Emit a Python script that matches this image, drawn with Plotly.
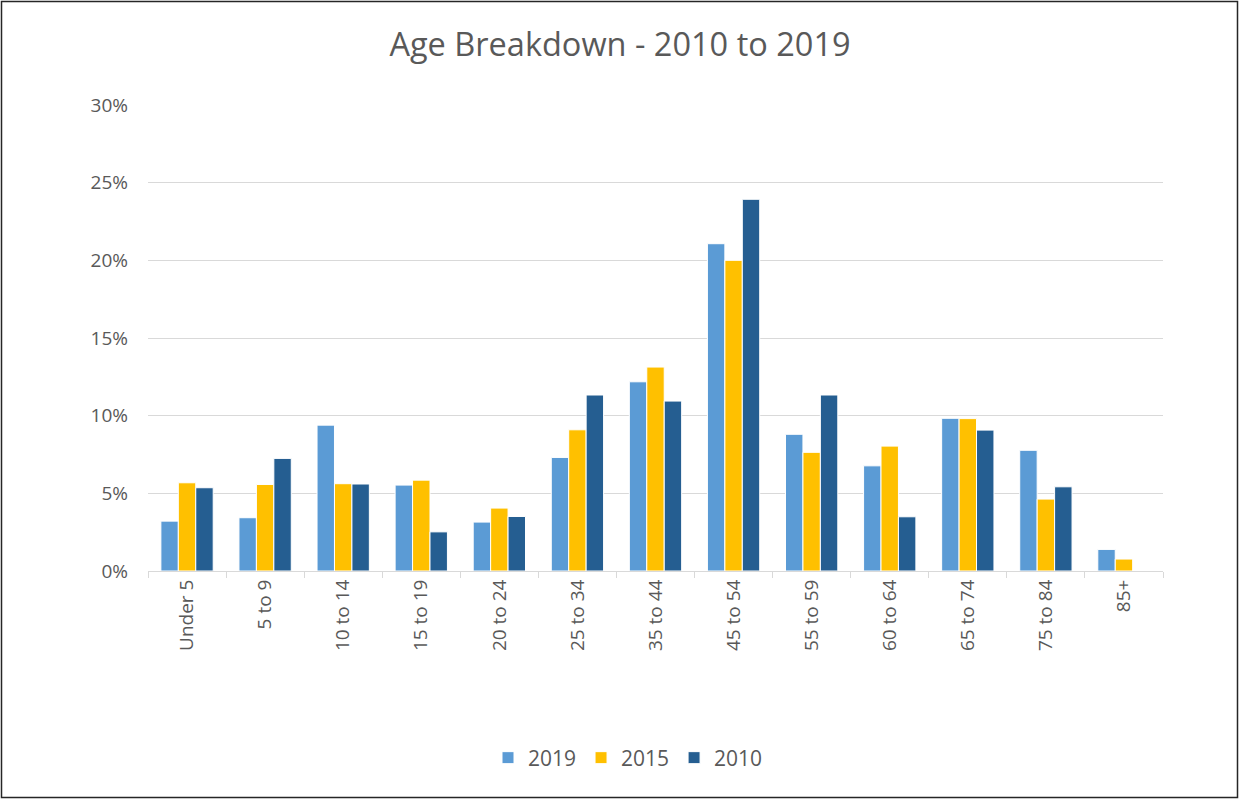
import plotly.graph_objects as go

categories = ["Under 5", "5 to 9", "10 to 14", "15 to 19", "20 to 24", "25 to 34",
              "35 to 44", "45 to 54", "55 to 59", "60 to 64", "65 to 74", "75 to 84", "85+"]
v2019 = [0.0321, 0.0343, 0.0939, 0.0553, 0.0315, 0.0731, 0.1218, 0.2107, 0.0880, 0.0677, 0.0983, 0.0777, 0.0139]
v2015 = [0.0568, 0.0557, 0.0562, 0.0585, 0.0405, 0.0909, 0.1313, 0.2000, 0.0764, 0.0804, 0.0981, 0.0463, 0.0077]
v2010 = [0.0536, 0.0725, 0.0560, 0.0252, 0.0351, 0.1133, 0.1094, 0.2393, 0.1133, 0.0349, 0.0907, 0.0542, 0.0]

series = [("2019", v2019, "#5B9BD5"), ("2015", v2015, "#FFC000"), ("2010", v2010, "#255E91")]

font_family = "'Open Sans', sans-serif"
text_color = "#595959"

fig = go.Figure()
for name, vals, color in series:
    fig.add_trace(go.Bar(
        name=name, x=categories, y=vals,
        marker=dict(color=color, line=dict(color="white", width=1)),
    ))

fig.update_layout(
    width=1240, height=799,
    margin=dict(l=148, r=77, t=105, b=228),
    paper_bgcolor="white", plot_bgcolor="white",
    barmode="group", bargap=0.33, bargroupgap=0,
    font=dict(family=font_family, color=text_color, size=19),
    title=dict(text="Age Breakdown - 2010 to 2019", x=0.5, xanchor="center",
               y=1 - 45 / 799, yanchor="middle", xref="container", yref="container",
               font=dict(size=32.5, color=text_color, family=font_family)),
    legend=dict(orientation="h", x=(628 - 148) / 1015, xanchor="center",
                y=(571 - 758) / 466, yanchor="middle",
                font=dict(size=21, color=text_color), itemwidth=30,
                traceorder="normal"),
    showlegend=True,
)
fig.update_yaxes(range=[0, 0.30], dtick=0.05, tickformat=".0%",
                 showgrid=True, gridcolor="#D9D9D9", gridwidth=1,
                 zeroline=False, showline=False, ticks="",
                 ticklabelstandoff=19,
                 tickfont=dict(size=19, color=text_color))
fig.update_xaxes(tickangle=-90, showline=True, linecolor="#D9D9D9", linewidth=1,
                 ticks="outside", tickson="boundaries", ticklen=6, tickcolor="#D9D9D9",
                 tickfont=dict(size=19, color=text_color), showgrid=False)

# outer border of the chart area
fig.add_shape(type="rect", xref="paper", yref="paper",
              x0=(1.5 - 148) / 1015, x1=(1237.5 - 148) / 1015,
              y0=(571 - 797.5) / 466, y1=(571 - 1.5) / 466,
              line=dict(color="#262626", width=1.5), fillcolor="rgba(0,0,0,0)",
              layer="below")

fig.write_html("out.html")
